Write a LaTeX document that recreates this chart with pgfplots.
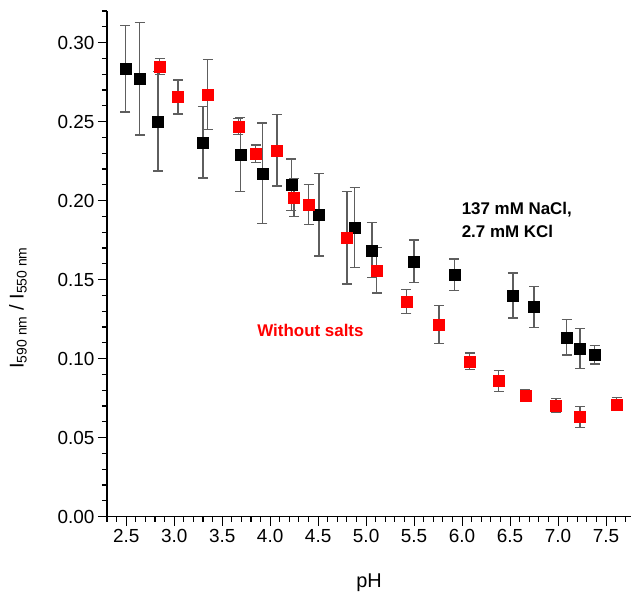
\documentclass[border=0pt]{standalone}
\usepackage{fontspec}
\setmainfont{Liberation Sans}
\usepackage{pgfplots}
\pgfplotsset{compat=1.18}
\definecolor{errgray}{HTML}{5E5E5E}
\definecolor{ptred}{HTML}{FF0000}

\begin{document}
\begin{tikzpicture}
  \begin{axis}[
      scale only axis,
      width=524bp, height=505.6bp,
      xmin=2.3, xmax=7.76,
      ymin=0, ymax=0.32,
      axis x line*=bottom, axis y line*=left,
      axis line style={black, line width=1.2bp},
      xtick={2.5,3.0,...,7.5},
      ytick={0,0.05,...,0.30},
      minor xtick={2.3,2.4,...,7.75},
      minor ytick={0.01,0.02,...,0.32},
      tick align=outside,
      major tick length=9bp, minor tick length=5bp,
      every tick/.style={black, line width=1.1bp},
      /pgf/number format/assume math mode=true,
      xticklabel style={font=\fontsize{19}{21}\selectfont,
        /pgf/number format/.cd, fixed, fixed zerofill, precision=1},
      yticklabel style={font=\fontsize{19}{21}\selectfont,
        /pgf/number format/.cd, fixed, fixed zerofill, precision=2},
      xlabel={pH},
      xlabel style={font=\fontsize{20}{22}\selectfont, at={(rel axis cs:0.5,0)},
        anchor=center, yshift=-66bp},
      ylabel={I\textsubscript{590 nm} / I\textsubscript{550 nm}},
      ylabel style={font=\fontsize{20}{22}\selectfont, at={(rel axis cs:0,0.413)},
        anchor=center, yshift=89bp},
      clip=false
    ]
    \coordinate (SW) at (rel axis cs:0,0);
    \coordinate (NE) at (rel axis cs:1,1);

    % 137 mM NaCl, 2.7 mM KCl
    \addplot[only marks, mark=square*, mark size=5.5bp,
      mark options={draw=black, fill=black},
      error bars/.cd, y dir=both, y explicit,
      error bar style={errgray, line width=1.3bp},
      error mark options={rotate=90, mark size=5bp, errgray, line width=1.3bp}]
      table[x=x, y=y, y error=e] {
      x     y       e
      2.49  0.2833  0.0273
      2.64  0.2772  0.0356
      2.83  0.2502  0.0315
      3.30  0.2369  0.0226
      3.69  0.2291  0.0235
      3.92  0.2173  0.0318
      4.22  0.2101  0.0163
      4.51  0.1910  0.0260
      4.88  0.1831  0.0254
      5.06  0.1686  0.0174
      5.50  0.1616  0.0134
      5.92  0.1530  0.0100
      6.53  0.1399  0.0143
      6.75  0.1327  0.0131
      7.09  0.1135  0.0113
      7.23  0.1065  0.0126
      7.38  0.1025  0.0059
    };

    % without salts
    \addplot[only marks, mark=square*, mark size=5.5bp,
      mark options={draw=ptred, fill=ptred},
      error bars/.cd, y dir=both, y explicit,
      error bar style={errgray, line width=1.3bp},
      error mark options={rotate=90, mark size=5bp, errgray, line width=1.3bp}]
      table[x=x, y=y, y error=e] {
      x     y       e
      2.85  0.2850  0.0050
      3.04  0.2656  0.0108
      3.35  0.2671  0.0220
      3.67  0.2470  0.0050
      3.85  0.2297  0.0055
      4.07  0.2318  0.0225
      4.25  0.2019  0.0120
      4.40  0.1975  0.0125
      4.80  0.1766  0.0293
      5.11  0.1559  0.0143
      5.42  0.1363  0.0076
      5.76  0.1215  0.0120
      6.08  0.0983  0.0053
      6.38  0.0857  0.0066
      6.66  0.0766  0.0035
      6.98  0.0704  0.0042
      7.23  0.0631  0.0068
      7.61  0.0711  0.0041
    };

    \node[anchor=west, align=left, font=\fontsize{17}{23}\selectfont\bfseries]
      at (axis cs:5.96,0.1875) {137 mM NaCl,\\2.7 mM KCl};
    \node[font=\fontsize{17}{20}\selectfont\bfseries, text=ptred]
      at (axis cs:4.42,0.1177) {Without salts};
  \end{axis}
  \pgfresetboundingbox
  \path ([shift={(-107bp,-77bp)}]SW) rectangle ([shift={(0bp,11bp)}]NE);
\end{tikzpicture}
\end{document}
